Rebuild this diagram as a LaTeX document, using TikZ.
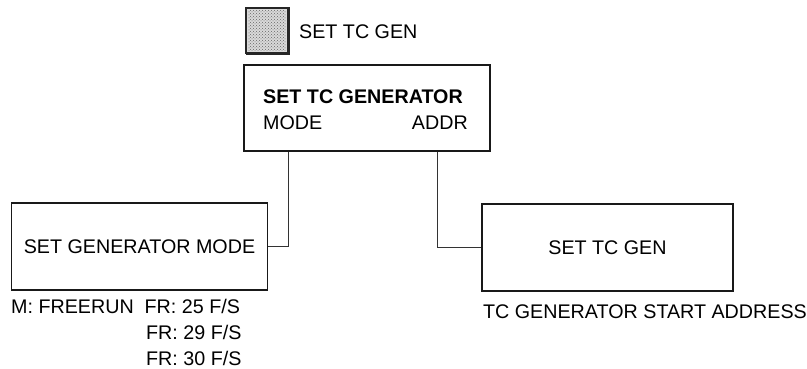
\documentclass[tikz,border=0pt]{standalone}
\usepackage{fontspec}
\setmainfont{Liberation Sans}
\usetikzlibrary{patterns}
\begin{document}
\begin{tikzpicture}[x=1pt,y=-1pt,
  box/.style={draw=black!90, line width=1.9pt, inner sep=0pt},
  conn/.style={draw=black!80, line width=0.9pt},
  lbl/.style={font=\fontsize{19.7}{23}\selectfont, inner sep=0pt, text=black},
  btn/.style={draw=black!85, line width=1.4pt, fill=gray!30, inner sep=0pt}]
\useasboundingbox (0,0) rectangle (807,369);
% button
\node[btn, minimum width=42pt, minimum height=45pt] (btn) at (267,30.5) {};
\fill[pattern=crosshatch dots, pattern color=black!60] ([shift={(3,-3)}]btn.south west) rectangle ([shift={(-3,3)}]btn.north east);
\draw[black!85, line width=2.4pt] ([shift={(0.5,0)}]btn.south west) -- (btn.south east) -- (btn.north east);
\node[lbl, anchor=west] (btnlbl) at (299,32) {SET TC GEN};
% top box
\node[box, minimum width=246pt, minimum height=86pt] (top) at (367,108) {};
\node[lbl, anchor=west, font=\fontsize{19.7}{23}\selectfont\bfseries] (t1) at (263,97) {SET TC GENERATOR};
\node[lbl, anchor=west] (t2) at (263,123) {MODE};
\node[lbl, anchor=east] (t3) at (468,123) {ADDR};
% left box
\node[box, minimum width=256pt, minimum height=87pt, lbl] (left) at (139.5,246.5) {SET GENERATOR MODE};
% right box
\node[box, minimum width=251pt, minimum height=87pt, lbl] (right) at (607.5,247.5) {SET TC GEN};
% connectors
\draw[conn] ([xshift=-79pt]top.south) |- (left.east);
\draw[conn] ([xshift=70pt]top.south) |- (right.west);
% notes
\node[lbl, anchor=west] (m1) at (11,306) {M: FREERUN\ \ FR: 25 F/S};
\node[lbl, anchor=west] (m2) at (146,332) {FR: 29 F/S};
\node[lbl, anchor=west] (m3) at (146,358) {FR: 30 F/S};
\node[lbl, anchor=west] (r1) at (483,312) {TC GENERATOR START ADDRESS};
\end{tikzpicture}
\end{document}
